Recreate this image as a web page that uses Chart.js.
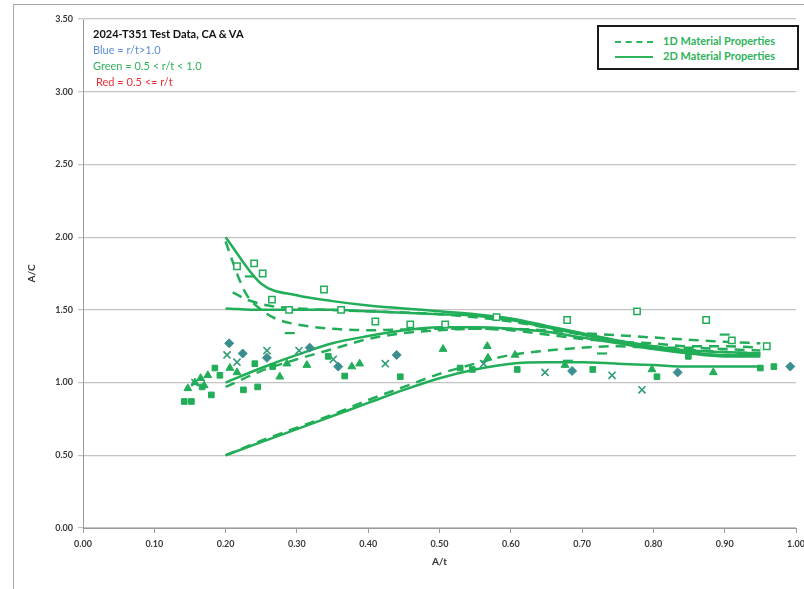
<!DOCTYPE html>
<html>
<head>
<meta charset="utf-8">
<script src="https://cdn.jsdelivr.net/npm/chart.js@4/dist/chart.umd.min.js"></script>
<style>
  html, body { margin: 0; padding: 0; background: #ffffff; }
  body { width: 804px; height: 589px; overflow: hidden; position: relative; font-family: Lato, "Liberation Sans", sans-serif; }
  #frame { position: absolute; left: 13px; top: 4px; width: 900px; height: 700px; border: 1px solid #a8a8a8; box-sizing: border-box; }
  #wrap { position: absolute; left: 0; top: 0; width: 830px; height: 589px; }
  #note { position: absolute; left: 93px; top: 26px; font-size: 11px; line-height: 16px; }
  #note .t { font-weight: 700; color: #111; }
  #note .b { color: #5a8ed0; }
  #note .g { color: #2fb35c; }
  #note .r { color: #e53138; padding-left: 3px; }
  #key { position: absolute; left: 597px; top: 25px; width: 202px; height: 45px; border: 2px solid #1a1a1a; box-sizing: border-box; background: #fff; }
  #key .row { position: absolute; left: 16px; height: 14px; font-size: 11px; font-weight: 700; color: #2fb35c; white-space: nowrap; }
  #key .row span.s { position: absolute; left: 0; top: 6px; width: 38px; height: 0; }
  #key .row span.l { position: absolute; left: 48px; top: -1px; }
</style>
</head>
<body>
<div id="frame"></div>
<div id="wrap"><canvas id="c" width="830" height="589"></canvas></div>
<div id="note">
  <div class="t">2024-T351 Test Data, CA &amp; VA</div>
  <div class="b">Blue = r/t&gt;1.0</div>
  <div class="g">Green = 0.5 &lt; r/t &lt; 1.0</div>
  <div class="r">Red = 0.5 &lt;= r/t</div>
</div>
<div id="key">
  <div class="row" style="top:8px"><span class="s" style="border-top:2.5px dashed #2fb35c"></span><span class="l">1D Material Properties</span></div>
  <div class="row" style="top:23px"><span class="s" style="border-top:2.5px solid #2fb35c"></span><span class="l">2D Material Properties</span></div>
</div>
<script>
// Axis tick labels
const xTickLabels = ["0.00","0.10","0.20","0.30","0.40","0.50","0.60","0.70","0.80","0.90","1.00"];
const yTickLabels = ["0.00","0.50","1.00","1.50","2.00","2.50","3.00","3.50"];

// A/t sampling used by the model curves
const curveX = [0.20, 0.25, 0.30, 0.35, 0.40, 0.45, 0.50, 0.55, 0.60, 0.65, 0.70, 0.75, 0.80, 0.85, 0.90, 0.95];

// 2D material property predictions (solid)
const twoD_upper  = [2.00, 1.68, 1.60, 1.56, 1.53, 1.51, 1.49, 1.47, 1.44, 1.39, 1.34, 1.29, 1.25, 1.22, 1.21, 1.20];
const twoD_flat   = [1.51, 1.50, 1.50, 1.50, 1.49, 1.48, 1.47, 1.46, 1.43, 1.38, 1.33, 1.28, 1.24, 1.21, 1.19, 1.19];
const twoD_rising = [1.00, 1.10, 1.19, 1.27, 1.32, 1.36, 1.38, 1.38, 1.37, 1.35, 1.31, 1.27, 1.23, 1.20, 1.18, 1.18];
const twoD_lower  = [0.50, 0.59, 0.68, 0.77, 0.86, 0.95, 1.03, 1.09, 1.13, 1.14, 1.14, 1.13, 1.12, 1.11, 1.11, 1.11];

// 1D material property predictions (dashed)
const oneD_upperX = [0.20, 0.21, 0.22, 0.23, 0.25, 0.27, 0.30, 0.35, 0.40, 0.50, 0.60, 0.70, 0.80, 0.90, 0.95];
const oneD_upper  = [1.97, 1.83, 1.70, 1.60, 1.50, 1.44, 1.40, 1.37, 1.36, 1.37, 1.37, 1.34, 1.31, 1.28, 1.27];
const oneD_flatX  = [0.21, 0.23, 0.26, 0.30, 0.40, 0.50, 0.60, 0.70, 0.80, 0.90, 0.95];
const oneD_flat   = [1.62, 1.57, 1.53, 1.51, 1.49, 1.47, 1.42, 1.33, 1.25, 1.21, 1.20];
const oneD_rising = [0.97, 1.08, 1.16, 1.23, 1.30, 1.34, 1.36, 1.37, 1.36, 1.33, 1.30, 1.28, 1.27, 1.25, 1.25, 1.24];
const oneD_lower  = [0.50, 0.60, 0.69, 0.78, 0.88, 0.97, 1.06, 1.13, 1.19, 1.22, 1.24, 1.25, 1.24, 1.24, 1.23, 1.22];

// Test data: A/t and A/c
const openSqX = [0.216, 0.240, 0.252, 0.265, 0.289, 0.338, 0.362, 0.410, 0.459, 0.508, 0.580, 0.679, 0.777, 0.874, 0.910, 0.959];
const openSqY = [1.80, 1.82, 1.75, 1.57, 1.50, 1.64, 1.50, 1.42, 1.40, 1.40, 1.45, 1.43, 1.49, 1.43, 1.29, 1.25];

const fillSqX = [0.142, 0.152, 0.167, 0.180, 0.185, 0.192, 0.225, 0.241, 0.245, 0.266, 0.344, 0.367, 0.445, 0.529, 0.546, 0.609, 0.715, 0.805, 0.849, 0.950, 0.969];
const fillSqY = [0.87, 0.87, 0.97, 0.915, 1.10, 1.05, 0.95, 1.13, 0.97, 1.11, 1.18, 1.045, 1.04, 1.10, 1.09, 1.09, 1.09, 1.04, 1.18, 1.10, 1.11];

const triX = [0.147, 0.157, 0.165, 0.170, 0.175, 0.206, 0.216, 0.276, 0.286, 0.314, 0.377, 0.388, 0.505, 0.567, 0.568, 0.606, 0.676, 0.798, 0.884];
const triY = [0.96, 1.00, 1.03, 0.98, 1.05, 1.10, 1.07, 1.04, 1.13, 1.12, 1.11, 1.13, 1.23, 1.25, 1.17, 1.19, 1.12, 1.09, 1.07];

const crossX = [0.157, 0.202, 0.216, 0.258, 0.303, 0.351, 0.424, 0.562, 0.648, 0.742, 0.784];
const crossY = [1.00, 1.19, 1.14, 1.22, 1.22, 1.16, 1.13, 1.13, 1.07, 1.05, 0.95];

const diaX = [0.205, 0.224, 0.258, 0.318, 0.358, 0.440, 0.686, 0.834, 0.992];
const diaY = [1.27, 1.20, 1.17, 1.24, 1.11, 1.19, 1.08, 1.07, 1.11];

const dashX = [0.234, 0.290, 0.680, 0.728, 0.900];
const dashY = [1.73, 1.34, 1.15, 1.20, 1.33];

const GREEN = '#22ad58';
const TEAL = '#2f9c78';
const DIAMOND = '#3a8f8e';

const pts = (xs, ys) => xs.map((x, i) => ({ x: x, y: ys[i] }));

function curve(xs, ys, dashed) {
  return {
    data: pts(xs, ys), showLine: true, borderColor: GREEN, borderWidth: 2.5,
    borderDash: dashed ? [10, 7] : [], pointRadius: 0, tension: 0.4,
    cubicInterpolationMode: 'monotone', fill: false, order: 2
  };
}
function marks(xs, ys, style, r, fillCol, edgeCol, bw) {
  return {
    data: pts(xs, ys), showLine: false, pointStyle: style, pointRadius: r,
    backgroundColor: fillCol, borderColor: edgeCol, borderWidth: bw, order: 1
  };
}

const datasets = [
  curve(curveX, twoD_upper, false),
  curve(curveX, twoD_flat, false),
  curve(curveX, twoD_rising, false),
  curve(curveX, twoD_lower, false),
  curve(oneD_upperX, oneD_upper, true),
  curve(oneD_flatX, oneD_flat, true),
  curve(curveX, oneD_rising, true),
  curve(curveX, oneD_lower, true),
  marks(openSqX, openSqY, 'rect', 4.5, '#ffffff', GREEN, 1.5),
  marks(fillSqX, fillSqY, 'rect', 4, GREEN, GREEN, 1),
  marks(triX, triY, 'triangle', 4.5, GREEN, GREEN, 1),
  marks(crossX, crossY, 'crossRot', 5, TEAL, TEAL, 1.6),
  marks(diaX, diaY, 'rectRot', 4.5, DIAMOND, DIAMOND, 1),
  marks(dashX, dashY, 'line', 5, GREEN, GREEN, 2.2)
];

const tickFont = { family: 'Lato, "Liberation Sans", sans-serif', size: 9, weight: 'bold' };
const titleFont = { family: 'Lato, "Liberation Sans", sans-serif', size: 10, weight: 'bold', lineHeight: 1.2 };

new Chart(document.getElementById('c'), {
  type: 'scatter',
  data: { datasets: datasets },
  options: {
    responsive: false,
    animation: false,
    layout: { padding: { left: 0, top: 19, right: 34, bottom: 0 } },
    plugins: { legend: { display: false }, tooltip: { enabled: false } },
    scales: {
      x: {
        type: 'linear', min: 0, max: 1,
        afterFit: s => { s.height = 61; },
        afterBuildTicks: s => { s.ticks = xTickLabels.map(v => ({ value: parseFloat(v) })); },
        ticks: {
          padding: 6, color: '#3a3a3a', font: tickFont, maxRotation: 0, autoSkip: false,
          callback: (v, i) => xTickLabels[i]
        },
        grid: { display: true, drawOnChartArea: false, drawTicks: true, tickLength: 5, color: '#9a9a9a' },
        border: { display: true, color: '#9a9a9a', width: 1 },
        title: { display: true, text: 'A/t', color: '#333', font: titleFont, padding: { top: 0, bottom: 21 } }
      },
      y: {
        type: 'linear', min: 0, max: 3.5,
        afterFit: s => { s.width = 83; },
        afterBuildTicks: s => { s.ticks = yTickLabels.map(v => ({ value: parseFloat(v) })); },
        ticks: {
          padding: 5, color: '#3a3a3a', font: tickFont,
          callback: (v, i) => yTickLabels[i]
        },
        grid: { display: true, drawTicks: true, tickLength: 5, color: '#c4c4c4', lineWidth: 1.2 },
        border: { display: true, color: '#9a9a9a', width: 1 },
        title: { display: true, text: 'A/C', color: '#333', font: titleFont, padding: { top: 26, bottom: 0 } }
      }
    }
  }
});
</script>
</body>
</html>
